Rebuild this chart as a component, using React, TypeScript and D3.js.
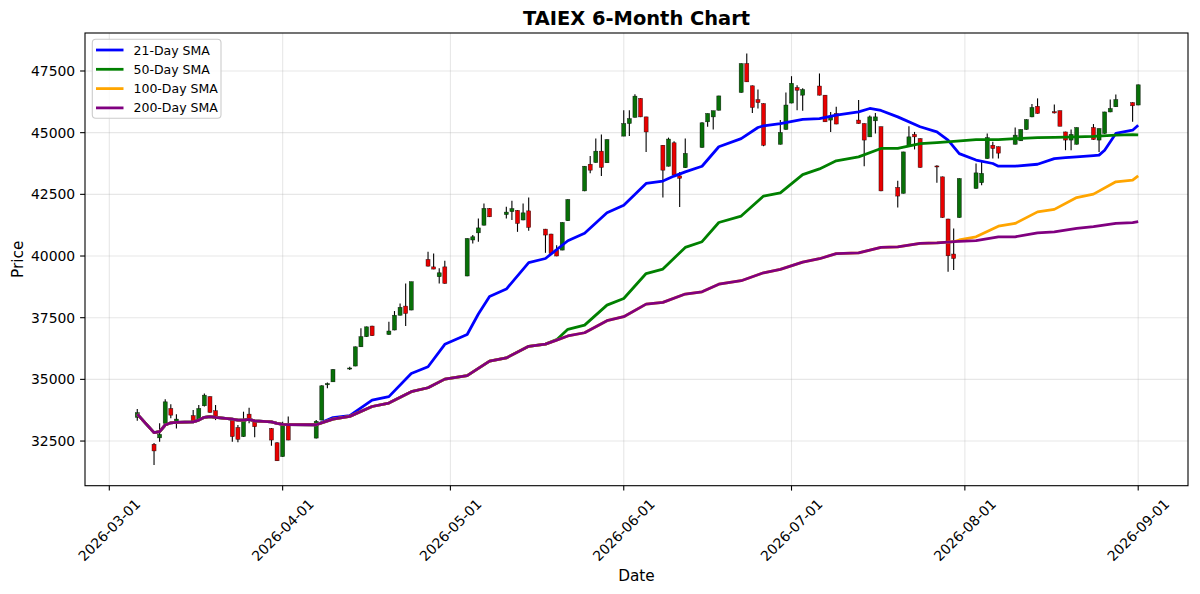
import * as d3 from 'd3'

// Daily candles (trading days only)
const candleDates = [
  '2026-03-06', '2026-03-09', '2026-03-10', '2026-03-11', '2026-03-12', '2026-03-13',
  '2026-03-16', '2026-03-17', '2026-03-18', '2026-03-19', '2026-03-20',
  '2026-03-23', '2026-03-24', '2026-03-25', '2026-03-26', '2026-03-27',
  '2026-03-30', '2026-03-31', '2026-04-01', '2026-04-02',
  '2026-04-07', '2026-04-08', '2026-04-09', '2026-04-10',
  '2026-04-13', '2026-04-14', '2026-04-15', '2026-04-16', '2026-04-17',
  '2026-04-20', '2026-04-21', '2026-04-22', '2026-04-23', '2026-04-24',
  '2026-04-27', '2026-04-28', '2026-04-29', '2026-04-30',
  '2026-05-04', '2026-05-05', '2026-05-06', '2026-05-07', '2026-05-08',
  '2026-05-11', '2026-05-12', '2026-05-13', '2026-05-14', '2026-05-15',
  '2026-05-18', '2026-05-19', '2026-05-20', '2026-05-21', '2026-05-22',
  '2026-05-25', '2026-05-26', '2026-05-27', '2026-05-28', '2026-05-29',
  '2026-06-01', '2026-06-02', '2026-06-03', '2026-06-04', '2026-06-05',
  '2026-06-08', '2026-06-09', '2026-06-10', '2026-06-11', '2026-06-12',
  '2026-06-15', '2026-06-16', '2026-06-17', '2026-06-18',
  '2026-06-22', '2026-06-23', '2026-06-24', '2026-06-25', '2026-06-26',
  '2026-06-29', '2026-06-30', '2026-07-01', '2026-07-02', '2026-07-03',
  '2026-07-06', '2026-07-07', '2026-07-08', '2026-07-09',
  '2026-07-13', '2026-07-14', '2026-07-15', '2026-07-16', '2026-07-17',
  '2026-07-20', '2026-07-21', '2026-07-22', '2026-07-23', '2026-07-24',
  '2026-07-27', '2026-07-28', '2026-07-29', '2026-07-30', '2026-07-31',
  '2026-08-03', '2026-08-04', '2026-08-05', '2026-08-06', '2026-08-07',
  '2026-08-10', '2026-08-11', '2026-08-12', '2026-08-13', '2026-08-14',
  '2026-08-17', '2026-08-18', '2026-08-19', '2026-08-20', '2026-08-21',
  '2026-08-24', '2026-08-25', '2026-08-26', '2026-08-27', '2026-08-28',
  '2026-08-31', '2026-09-01',
]

const opens = [
  33460, 32370, 32630, 33220, 33820, 33220,
  33530, 33380, 33930, 34300, 33730,
  33350, 33050, 32680, 33590, 33280,
  33010, 32430, 31870, 33150,
  32620, 33350, 34780, 34900,
  35420, 35540, 36320, 36730, 37160,
  36820, 37000, 37600, 37970, 37810,
  39860, 39560, 39160, 39560,
  39190, 40650, 40940, 41250, 41930,
  41680, 41800, 41850, 41460, 41830,
  41090, 40890, 40240, 40240, 41430,
  42640, 43720, 43790, 44250, 43780,
  44860, 45370, 45620, 46390, 45640,
  44490, 43640, 44590, 43250, 43580,
  44400, 45440, 45640, 45910,
  46630, 47800, 46900, 46340, 46180,
  44530, 45130, 46200, 46830, 46520,
  46890, 46520, 45510, 45780,
  45510, 45370, 44830, 45480, 45240,
  42780, 42540, 44490, 44930, 44760,
  43650, 43210, 41500, 40080, 41560,
  42740, 42970, 43950, 44490, 44430,
  44530, 44670, 45130, 45640, 46070,
  45850, 45890, 45030, 44700, 44530,
  45210, 44700, 44970, 45840, 46050,
  46220, 46120,
]

const highs = [
  33800, 32420, 33220, 34190, 33990, 33590,
  33760, 33960, 34430, 34320, 33960,
  33360, 33150, 33690, 33850, 33330,
  33030, 32450, 33280, 33490,
  33350, 34760, 34870, 35420,
  35510, 36330, 37070, 37140, 37170,
  37340, 37770, 38080, 38890, 38960,
  40170, 40100, 39500, 39810,
  40720, 40850, 41520, 42130, 41940,
  42000, 42240, 41860, 42130, 42370,
  41100, 40900, 40440, 41370, 42300,
  43650, 44050, 44760, 44930, 44730,
  45910, 45910, 46560, 46400, 45650,
  44500, 44800, 44650, 43410, 44760,
  45420, 45780, 45890, 46500,
  47810, 48210, 46910, 46750, 46190,
  45510, 46630, 47290, 46920, 46800,
  47400, 46530, 45840, 46050,
  46320, 45380, 45700, 45800, 45250,
  43050, 44230, 45260, 45030, 44770,
  43680, 43220, 41510, 41120, 43150,
  43750, 43820, 44970, 44630, 44440,
  45210, 45130, 45540, 46160, 46390,
  46140, 45900, 45040, 45130, 45210,
  45350, 45170, 45850, 46340, 46550,
  46230, 46950,
]

const lows = [
  33320, 31530, 32470, 33150, 33420, 33010,
  33280, 33350, 33900, 33650, 33350,
  32470, 32450, 32670, 33220, 32650,
  32310, 31690, 31860, 32530,
  32600, 33340, 34640, 34890,
  35380, 35530, 36310, 36720, 36760,
  36810, 36990, 37590, 37160, 37800,
  39580, 39460, 38890, 38880,
  39180, 40510, 40580, 41240, 41580,
  41520, 41460, 40980, 41450, 41020,
  40130, 40090, 39990, 40230, 41420,
  42630, 43350, 43780, 43240, 43770,
  44850, 44870, 45610, 45630, 44220,
  42370, 43630, 43270, 41990, 43570,
  44390, 45240, 45130, 45900,
  46620, 47050, 45800, 45980, 44450,
  44520, 45120, 46190, 45910, 45890,
  46510, 45430, 45030, 45340,
  45360, 43640, 44820, 44970, 42630,
  41970, 42530, 44480, 44320, 43580,
  42970, 41550, 39360, 39430, 41550,
  42730, 42870, 43940, 43950, 43950,
  44520, 44660, 45120, 45630, 45770,
  45780, 45260, 44290, 44290, 44520,
  44710, 44220, 44960, 45830, 46040,
  45440, 46110,
]

const closes = [
  33650, 32100, 32770, 34090, 33550, 33390,
  33310, 33820, 34360, 33660, 33510,
  32680, 32570, 33350, 33380, 33080,
  32540, 31700, 33220, 32540,
  33300, 34740, 34830, 35400,
  35460, 36320, 36730, 37130, 36770,
  36960, 37600, 37920, 37670, 38960,
  39590, 39470, 39320, 38890,
  40710, 40780, 41140, 41930, 41590,
  41780, 41920, 41320, 41750, 41160,
  40850, 40100, 40000, 41360, 42290,
  43640, 43480, 44250, 43590, 44720,
  45370, 45570, 46480, 45640, 45030,
  43480, 44740, 43280, 43150, 44160,
  45400, 45780, 45890, 46490,
  47800, 47060, 46020, 46220, 44490,
  45010, 46120, 47000, 46720, 46750,
  46520, 45440, 45640, 45350,
  45370, 44700, 45640, 45640, 42640,
  42430, 44220, 44830, 44830, 43590,
  43610, 41560, 40010, 39900, 43140,
  43370, 43350, 44800, 44360, 44170,
  44900, 45130, 45530, 46020, 45780,
  45800, 45260, 44700, 44930, 45210,
  44720, 45170, 45840, 45980, 46340,
  46090, 46940,
]

// Moving-average lines, read at their visible nodes (null = not read there)
const smaDates = [
  '2026-03-06', '2026-03-09', '2026-03-10', '2026-03-11', '2026-03-12', '2026-03-13',
  '2026-03-16', '2026-03-17', '2026-03-18', '2026-03-19', '2026-03-20',
  '2026-03-23', '2026-03-24', '2026-03-25', '2026-03-26', '2026-03-27',
  '2026-03-30', '2026-03-31', '2026-04-01', '2026-04-02', '2026-04-07',
  '2026-04-10', '2026-04-13', '2026-04-17', '2026-04-20', '2026-04-24',
  '2026-04-27', '2026-04-30', '2026-05-04', '2026-05-06', '2026-05-08',
  '2026-05-11', '2026-05-15', '2026-05-18', '2026-05-20', '2026-05-22',
  '2026-05-25', '2026-05-29', '2026-06-01', '2026-06-05', '2026-06-08',
  '2026-06-10', '2026-06-12', '2026-06-15', '2026-06-18', '2026-06-22',
  '2026-06-25', '2026-06-26', '2026-06-29', '2026-07-03', '2026-07-06',
  '2026-07-09', '2026-07-13', '2026-07-15', '2026-07-17', '2026-07-20',
  '2026-07-24', '2026-07-27', '2026-07-29', '2026-07-30', '2026-07-31',
  '2026-08-03', '2026-08-06', '2026-08-07', '2026-08-10', '2026-08-14',
  '2026-08-17', '2026-08-19', '2026-08-21', '2026-08-24', '2026-08-25',
  '2026-08-26', '2026-08-28', '2026-08-31', '2026-09-01',
]

const sma21 = [
  33590, 32840, 32880, 33150, 33240, 33260,
  33280, 33350, 33460, 33490, 33460,
  33390, 33350, 33350, 33380, 33320,
  33280, 33220, 33180, 33170, 33160,
  33450, 33530, 34160, 34300, 35240,
  35510, 36420, 36820, 37650, 38360,
  38660, 39730, 39900, null, 40620,
  40920, 41750, 42060, 42940, 43040,
  43240, 43410, 43640, 44430, 44760,
  45210, 45280, 45370, 45540, 45570,
  45710, 45840, 45980, 45900, 45640,
  45240, 45030, 44700, null, 44150,
  43890, 43750, 43640, 43640, 43720,
  43950, 43990, 44020, 44070, 44090,
  44290, 44970, 45100, 45300,
]

const sma50 = [
  33590, 32840, 32880, 33150, 33240, 33260,
  33280, 33350, 33460, 33490, 33460,
  33390, 33350, 33350, 33380, 33320,
  33280, 33220, 33180, 33170, 33160,
  33390, 33500, 33900, 34040, 34500,
  34660, 35010, 35150, null, 35740,
  35870, 36340, 36430, 36610, 37030,
  37200, 38010, 38280, 39290, 39470,
  null, 40350, 40580, 41360, 41620,
  null, 42430, 42560, 43300, 43530,
  43860, 44020, null, 44360, 44360,
  44560, 44600, null, 44650, null,
  44720, null, 44720, 44760, 44800,
  44810, null, 44830, 44850, null,
  null, 44900, 44920, 44910,
]

const sma100 = [
  33590, 32840, 32880, 33150, 33240, 33260,
  33280, 33350, 33460, 33490, 33460,
  33390, 33350, 33350, 33380, 33320,
  33280, 33220, 33180, 33170, 33160,
  33390, 33500, 33900, 34040, 34500,
  34660, 35010, 35150, null, 35740,
  35870, 36340, 36430, 36590, 36760,
  36890, 37380, 37540, 38050, 38120,
  null, 38460, 38550, 38860, 39000,
  null, 39320, 39460, 39750, 39890,
  40100, 40130, null, 40350, 40370,
  40510, 40530, 40560, 40580, 40650,
  40780, null, 41210, 41320, 41790,
  41890, null, 42370, 42510, null,
  null, 43010, 43080, 43250,
]

const sma200 = [
  33590, 32840, 32880, 33150, 33240, 33260,
  33280, 33350, 33460, 33490, 33460,
  33390, 33350, 33350, 33380, 33320,
  33280, 33220, 33180, 33170, 33160,
  33390, 33500, 33900, 34040, 34500,
  34660, 35010, 35150, null, 35740,
  35870, 36340, 36430, 36590, 36760,
  36890, 37380, 37540, 38050, 38120,
  null, 38460, 38550, 38860, 39000,
  null, 39320, 39460, 39750, 39890,
  40100, 40130, null, 40350, 40370,
  40510, 40530, 40560, 40580, 40590,
  40620, null, 40780, 40780, 40940,
  40980, null, 41120, 41190, null,
  null, 41320, 41350, 41390,
]

const seriesNames = ['21-Day SMA', '50-Day SMA', '100-Day SMA', '200-Day SMA']
const seriesColors = ['#0000ff', '#008000', '#ffa500', '#800080']

const xTickLabels = [
  '2026-03-01', '2026-04-01', '2026-05-01', '2026-06-01',
  '2026-07-01', '2026-08-01', '2026-09-01',
]
const yTicks = [32500, 35000, 37500, 40000, 42500, 45000, 47500]

const FONT = '"DejaVu Sans", Verdana, sans-serif'

export default function App() {
  const W = 1200
  const H = 594
  const left = 85
  const right = 1188
  const top = 33
  const bottom = 485.7

  const parse = d3.utcParse('%Y-%m-%d')
  const pd = (s: string) => parse(s) as Date

  const x = d3.scaleUtc()
    .domain([pd('2026-03-01'), pd('2026-09-01')])
    .range([109.3, 1138.2])
  const y = d3.scaleLinear().domain([30690, 49040]).range([bottom, top])

  const dayPx = x(pd('2026-03-02')) - x(pd('2026-03-01'))
  const bodyW = dayPx * 0.72

  const allSma = [sma21, sma50, sma100, sma200]
  const lineGen = d3.line<[Date, number]>()
    .x(d => x(d[0]))
    .y(d => y(d[1]))

  const smaPaths = allSma.map(vals =>
    lineGen(
      smaDates
        .map((d, i) => [pd(d), vals[i]] as [Date, number | null])
        .filter(p => p[1] != null) as [Date, number][]
    ) ?? ''
  )

  return (
    <div style={{ position: 'absolute', left: 0, top: 0 }}>
      <svg width={W} height={H} style={{ display: 'block', background: '#fff' }} fontFamily={FONT}>
        {/* grid */}
        <g stroke="#b0b0b0" strokeOpacity={0.3} strokeWidth={1.1}>
          {xTickLabels.map(t => (
            <line key={t} x1={x(pd(t))} x2={x(pd(t))} y1={top} y2={bottom} />
          ))}
          {yTicks.map(t => (
            <line key={t} x1={left} x2={right} y1={y(t)} y2={y(t)} />
          ))}
        </g>

        {/* candles */}
        <g>
          {candleDates.map((d, i) => {
            const cx = x(pd(d))
            return (
              <line key={'w' + d} x1={cx} x2={cx} y1={y(highs[i])} y2={y(lows[i])}
                stroke="#000" strokeWidth={1.1} />
            )
          })}
          {candleDates.map((d, i) => {
            const cx = x(pd(d))
            const up = closes[i] >= opens[i]
            const y0 = y(Math.max(opens[i], closes[i]))
            const y1 = y(Math.min(opens[i], closes[i]))
            return (
              <rect key={'b' + d} x={cx - bodyW / 2} y={y0} width={bodyW}
                height={Math.max(y1 - y0, 0.8)}
                fill={up ? '#087008' : '#e80000'}
                stroke="#000" strokeWidth={0.5} strokeOpacity={0.8} />
            )
          })}
        </g>

        {/* moving averages */}
        <g fill="none" strokeWidth={2.78} strokeLinejoin="round">
          {smaPaths.map((p, i) => (
            <path key={seriesNames[i]} d={p} stroke={seriesColors[i]} />
          ))}
        </g>

        {/* frame */}
        <rect x={left} y={top} width={right - left} height={bottom - top}
          fill="none" stroke="#000" strokeWidth={1.1} />

        {/* x axis ticks */}
        {xTickLabels.map(t => {
          const tx = x(pd(t))
          return (
            <g key={t}>
              <line x1={tx} x2={tx} y1={bottom} y2={bottom + 4.9} stroke="#000" strokeWidth={1.1} />
              <text x={tx} y={530} fontSize={13.9} textAnchor="middle" dominantBaseline="central"
                transform={`rotate(-45 ${tx} 530)`} fill="#000">{t}</text>
            </g>
          )
        })}

        {/* y axis ticks */}
        {yTicks.map(t => (
          <g key={t}>
            <line x1={left - 4.9} x2={left} y1={y(t)} y2={y(t)} stroke="#000" strokeWidth={1.1} />
            <text x={left - 9.8} y={y(t)} fontSize={13.9} textAnchor="end"
              dominantBaseline="central" fill="#000">{t}</text>
          </g>
        ))}

        {/* labels */}
        <text x={(left + right) / 2} y={24.7} fontSize={19.44} fontWeight="bold"
          textAnchor="middle" fill="#000">TAIEX 6-Month Chart</text>
        <text x={(left + right) / 2} y={581} fontSize={15.3} textAnchor="middle" fill="#000">Date</text>
        <text x={23} y={(top + bottom) / 2} fontSize={15.3} textAnchor="middle"
          transform={`rotate(-90 23 ${(top + bottom) / 2})`} fill="#000">Price</text>

        {/* legend */}
        <g>
          <rect x={92.3} y={39.3} width={128.7} height={79} rx={3.5}
            fill="#fff" fillOpacity={0.8} stroke="#cccccc" strokeWidth={1.1} />
          {seriesNames.map((name, i) => {
            const ly = 50 + i * 19.3
            return (
              <g key={name}>
                <line x1={96} x2={123.5} y1={ly} y2={ly} stroke={seriesColors[i]} strokeWidth={2.78} />
                <text x={133.5} y={ly} fontSize={12.5} dominantBaseline="central" fill="#000">{name}</text>
              </g>
            )
          })}
        </g>
      </svg>
    </div>
  )
}
